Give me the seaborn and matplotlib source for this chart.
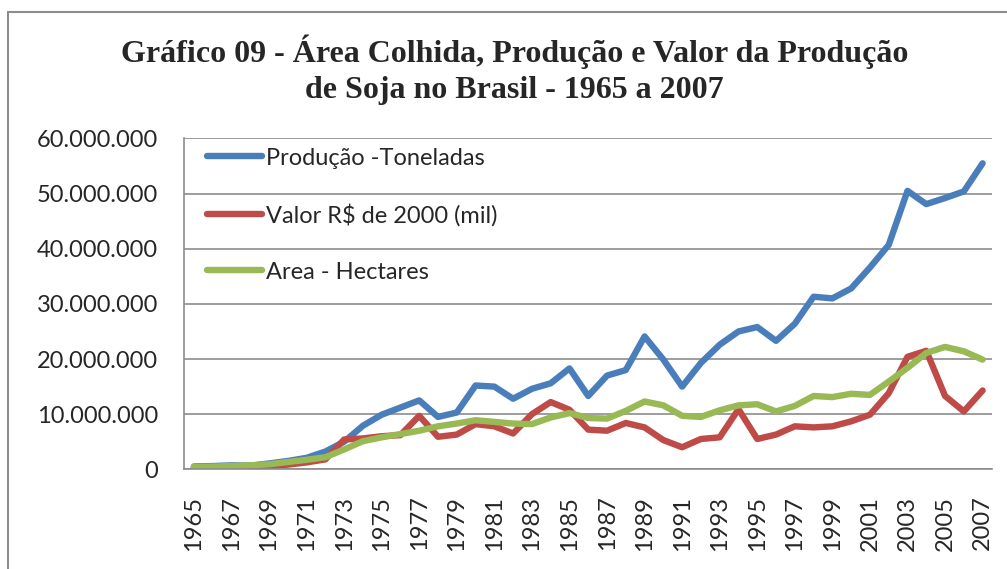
import numpy as np
import pandas as pd
import matplotlib
matplotlib.use("Agg")
import matplotlib.pyplot as plt
from matplotlib.patches import Rectangle
from matplotlib.ticker import FuncFormatter, FixedLocator
import seaborn as sns

# valores em milhoes
anos = list(range(1965, 2008))
producao = [0.52, 0.59, 0.72, 0.65, 1.06, 1.51, 2.08, 3.22, 5.0, 7.9,
            9.9, 11.2, 12.5, 9.5, 10.3, 15.2, 15.0, 12.8, 14.6, 15.6,
            18.3, 13.3, 17.0, 18.0, 24.1, 19.9, 15.0, 19.3, 22.6, 25.0,
            25.8, 23.3, 26.4, 31.3, 31.0, 32.8, 36.6, 40.7, 50.5, 48.1,
            49.2, 50.4, 55.5]
valor = [0.30, 0.32, 0.38, 0.40, 0.55, 0.85, 1.25, 1.8, 5.4, 5.6,
         6.0, 6.2, 9.7, 5.9, 6.3, 8.2, 7.8, 6.5, 10.0, 12.2,
         10.8, 7.2, 7.0, 8.4, 7.6, 5.3, 4.0, 5.5, 5.8, 10.9,
         5.5, 6.3, 7.8, 7.6, 7.8, 8.7, 9.9, 13.8, 20.4, 21.5,
         13.3, 10.5, 14.3]
area = [0.43, 0.49, 0.61, 0.72, 0.91, 1.32, 1.72, 2.19, 3.6, 5.1,
        5.8, 6.4, 7.0, 7.8, 8.3, 8.9, 8.6, 8.3, 8.2, 9.4,
        10.2, 9.3, 9.2, 10.6, 12.3, 11.6, 9.7, 9.5, 10.7, 11.6,
        11.8, 10.5, 11.5, 13.3, 13.1, 13.7, 13.5, 15.9, 18.4, 21.1,
        22.2, 21.4, 19.9]

series = [
    ("Produção -Toneladas", producao, "#4A7EBB"),
    ("Valor R$ de 2000 (mil)", valor, "#BE4B48"),
    ("Area - Hectares", area, "#98B954"),
]

sns.set_style("white")
plt.rcParams["font.family"] = ["Lato", "DejaVu Sans"]

fig = plt.figure(figsize=(10.07, 5.69), dpi=100)
ax = fig.add_axes([0.1832, 0.1752, 0.8019, 0.5814])

for nome, vals, cor in series:
    df = pd.DataFrame({"ano": anos, "valor": np.array(vals) * 1e6})
    sns.lineplot(data=df, x="ano", y="valor", ax=ax, color=cor, lw=4.6,
                 label=nome, solid_joinstyle="round", solid_capstyle="round")

grid_c = "#8C8C8C"
fs = 17
ax.set_xlim(1964.5, 2007.5)
ax.set_ylim(0, 60e6)
ax.set_yticks(np.arange(0, 60e6 + 1, 10e6))
ax.yaxis.set_major_formatter(FuncFormatter(lambda v, p: f"{int(v):,}".replace(",", ".")))
ax.set_xticks(anos[::2])
ax.set_xticklabels([str(a) for a in anos[::2]], rotation=90)
ax.xaxis.set_minor_locator(FixedLocator(np.arange(1964.5, 2008, 1)))
ax.tick_params(axis="x", which="major", length=0, pad=19, labelsize=fs)
ax.tick_params(axis="x", which="minor", length=4, width=1.2, color=grid_c, direction="out")
ax.tick_params(axis="y", length=6.5, width=1.2, color=grid_c, pad=12.5, labelsize=fs)
ax.set_xlabel("")
ax.set_ylabel("")

ax.grid(axis="y", color=grid_c, lw=1.2)
ax.set_axisbelow(True)
for s in ["top", "right"]:
    ax.spines[s].set_visible(False)
for s in ["left", "bottom"]:
    ax.spines[s].set_color(grid_c)
    ax.spines[s].set_linewidth(1.2)

ax.legend(loc="upper left", bbox_to_anchor=(0.028, 0.972), frameon=False,
          fontsize=fs, handlelength=2.33, handletextpad=0.15, labelspacing=1.48,
          borderaxespad=0, borderpad=0)

tfont = dict(ha="center", va="baseline", fontsize=23, fontweight="bold",
             family="Liberation Serif")
fig.text(0.511, 1 - 62 / 569, "Gráfico 09 - Área Colhida, Produção e Valor da Produção", **tfont)
fig.text(0.511, 1 - 98 / 569, "de Soja no Brasil - 1965 a 2007", **tfont)

# moldura do grafico (cortada a direita e embaixo)
fig.patches.append(Rectangle((8 / 1007, -0.1), 1.2, 1.1 - 12 / 569, transform=fig.transFigure,
                             fill=False, edgecolor=grid_c, lw=1.5, clip_on=False))

fig.savefig("out.png", dpi=100)
